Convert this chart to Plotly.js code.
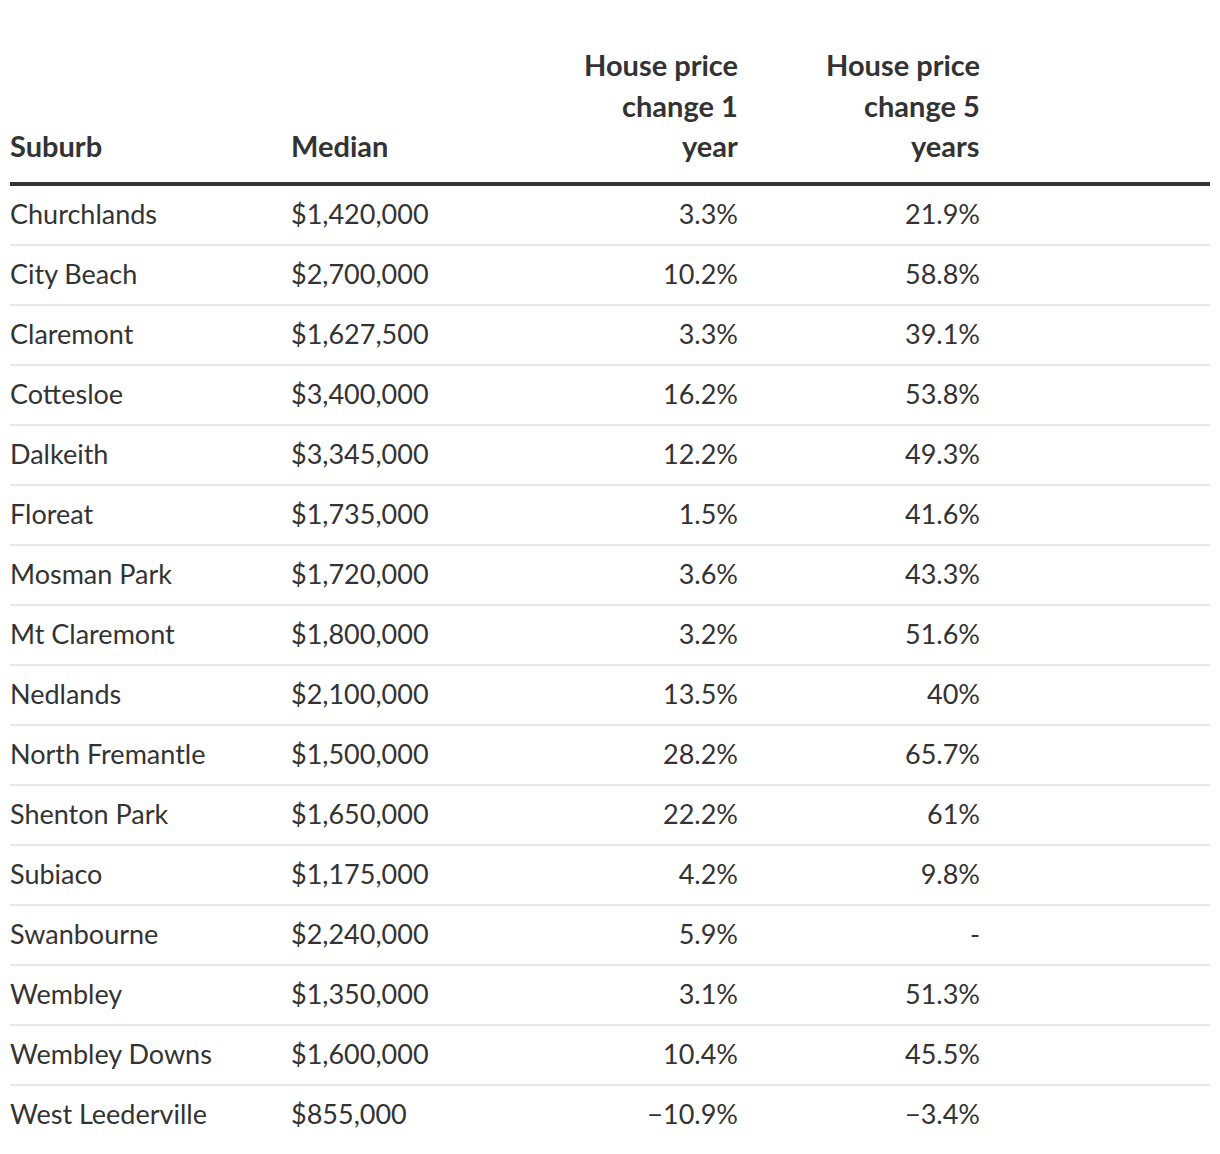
<!DOCTYPE html>
<html><head><meta charset="utf-8">
<script src="https://cdn.plot.ly/plotly-3.0.1.min.js"></script>
<style>html,body{margin:0;padding:0;background:#fff}</style>
</head><body><div id="chart" style="width:1220px;height:1154px"></div>
<script>
const suburbs = ['Churchlands', 'City Beach', 'Claremont', 'Cottesloe', 'Dalkeith', 'Floreat', 'Mosman Park', 'Mt Claremont', 'Nedlands', 'North Fremantle', 'Shenton Park', 'Subiaco', 'Swanbourne', 'Wembley', 'Wembley Downs', 'West Leederville'];
const medians = [1420000, 2700000, 1627500, 3400000, 3345000, 1735000, 1720000, 1800000, 2100000, 1500000, 1650000, 1175000, 2240000, 1350000, 1600000, 855000];
const change1y = [3.3, 10.2, 3.3, 16.2, 12.2, 1.5, 3.6, 3.2, 13.5, 28.2, 22.2, 4.2, 5.9, 3.1, 10.4, -10.9];
const change5y = [21.9, 58.8, 39.1, 53.8, 49.3, 41.6, 43.3, 51.6, 40, 65.7, 61, 9.8, null, 51.3, 45.5, -3.4];
// column headers, one entry per line (top to bottom)
const headerLabels = [['Suburb'], ['Median'], ['House price', 'change 1', 'year'], ['House price', 'change 5', 'years']];

const W = 1220, H = 1154;
const FONT = 'Lato, "Noto Sans", sans-serif';
const FS_BODY = 27;
const FS_HEAD = 29;
const TEXT = '#333333';
const ALIGN = ['left', 'left', 'right', 'right', 'left'];
const COLW = [281, 217, 246, 242, 230];
const X0 = 2;            // px, table left edge
const CELL_PAD = 8;      // plotly table cell padding
const ANN_PAD = 2;       // annotation inner offset

function money(v) { return '$' + v.toLocaleString('en-US'); }
function pct(v) {
  if (v === null || v === undefined) return '-';
  const s = String(Math.abs(v)) + '%';
  return v < 0 ? '\u2212' + s : s;
}

// layout constants (px)
const HEAD_LAST_LINE_Y = 145;
const HEAD_LINE_GAP = 40;
const TABLE_TOP = 166;
const TABLE_HEADER_H = 30;
const ROW_H = 60;
const RULE_X0 = 10, RULE_X1 = 1210;
const HEAD_RULE_Y = 184;
const FIRST_ROW_RULE_Y = 245;

const totalW = COLW.reduce((a, b) => a + b, 0);
const colStart = [];
COLW.reduce((acc, w, i) => { colStart[i] = acc; return acc + w; }, X0);

// header labels as annotations, one per line, bottom-aligned, aligned like their column
const annotations = [];
headerLabels.forEach((lines, i) => {
  const right = ALIGN[i] === 'right';
  const xpx = right ? colStart[i] + COLW[i] - CELL_PAD + ANN_PAD : colStart[i] + CELL_PAD - ANN_PAD;
  lines.forEach((line, j) => {
    const ypx = HEAD_LAST_LINE_Y - (lines.length - 1 - j) * HEAD_LINE_GAP;
    annotations.push({
      xref: 'paper', yref: 'paper', showarrow: false,
      x: xpx / W, y: 1 - ypx / H,
      xanchor: right ? 'right' : 'left', yanchor: 'middle',
      text: '<b>' + line + '</b>',
      font: {family: FONT, size: FS_HEAD, color: TEXT}
    });
  });
});

const shapes = [];
shapes.push({type: 'line', xref: 'paper', yref: 'paper',
  x0: RULE_X0 / W, x1: RULE_X1 / W, y0: 1 - HEAD_RULE_Y / H, y1: 1 - HEAD_RULE_Y / H,
  line: {color: '#333333', width: 4}});
for (let i = 0; i < suburbs.length - 1; i++) {
  const y = FIRST_ROW_RULE_Y + i * ROW_H;
  shapes.push({type: 'line', xref: 'paper', yref: 'paper',
    x0: RULE_X0 / W, x1: RULE_X1 / W, y0: 1 - y / H, y1: 1 - y / H,
    line: {color: '#e8e8e8', width: 2}});
}

const noLine = {width: 0, color: 'rgba(0,0,0,0)'};
const noFill = {color: 'rgba(0,0,0,0)'};

const bodyTrace = {
  type: 'table',
  domain: {x: [X0 / W, (X0 + totalW) / W], y: [0, 1 - TABLE_TOP / H]},
  columnwidth: COLW,
  header: {values: ['', '', '', '', ''], height: TABLE_HEADER_H, fill: noFill, line: noLine,
           font: {family: FONT, size: 2, color: 'rgba(0,0,0,0)'}},
  cells: {
    values: [suburbs, medians.map(money), change1y.map(pct), change5y.map(pct), suburbs.map(() => '')],
    align: ALIGN, height: ROW_H, fill: noFill, line: noLine,
    font: {family: FONT, size: FS_BODY, color: TEXT}
  }
};

Plotly.newPlot('chart', [bodyTrace], {
  width: W, height: H,
  margin: {l: 0, r: 0, t: 0, b: 0},
  paper_bgcolor: '#ffffff',
  font: {family: FONT, color: TEXT},
  shapes: shapes,
  annotations: annotations
}, {displayModeBar: false, staticPlot: true});
</script>
</body></html>
